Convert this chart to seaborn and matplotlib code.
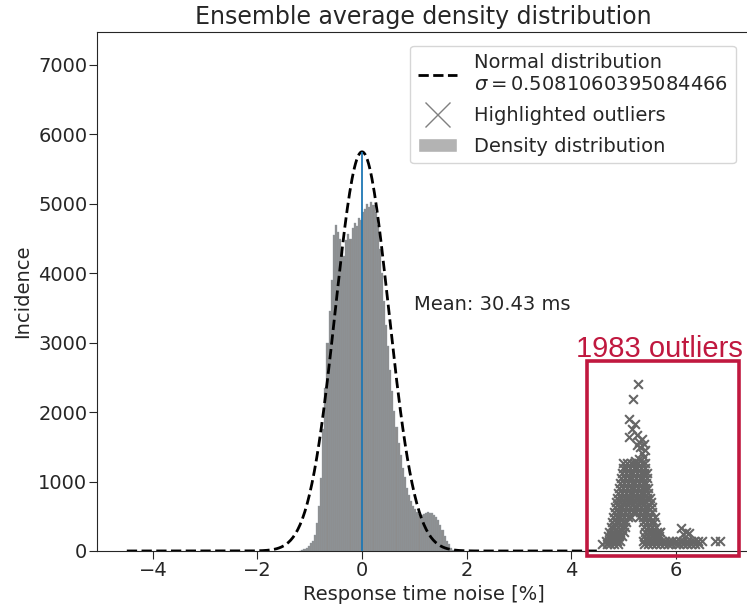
import numpy as np
import pandas as pd
import seaborn as sns
import matplotlib.pyplot as plt
from matplotlib.lines import Line2D
from matplotlib.patches import Patch, Rectangle

# histogram of response time noise (bin centres in %, bar heights)
bin_width = 0.04
bin_centers = [-1.18, -1.14, -1.10, -1.06, -1.02, -0.98, -0.94, -0.90, -0.86, -0.82,
               -0.78, -0.74, -0.70, -0.66, -0.62, -0.58, -0.54, -0.50, -0.46, -0.42,
               -0.38, -0.34, -0.30, -0.26, -0.22, -0.18, -0.14, -0.10, -0.06, -0.02,
               0.02, 0.06, 0.10, 0.14, 0.18, 0.22, 0.26, 0.30, 0.34, 0.38,
               0.42, 0.46, 0.50, 0.54, 0.58, 0.62, 0.66, 0.70, 0.74, 0.78,
               0.82, 0.86, 0.90, 0.94, 0.98, 1.02, 1.06, 1.10, 1.14, 1.18,
               1.22, 1.26, 1.30, 1.34, 1.38, 1.42, 1.46, 1.50, 1.54, 1.58,
               1.62, 1.66, 1.70, 1.74, 1.78]
bin_heights = [0, 10, 25, 45, 70, 110, 150, 230, 400, 650,
               1050, 1750, 2350, 3000, 3450, 3900, 4550, 4700, 4600, 4500,
               4300, 4250, 4480, 4560, 4500, 4650, 4720, 4680, 4800, 4760,
               4880, 4930, 5000, 4960, 5030, 4980, 4880, 4700, 4350, 4000,
               3600, 3250, 2950, 2600, 2300, 2020, 1780, 1560, 1380, 1200,
               1060, 900, 800, 720, 650, 600, 560, 530, 520, 530,
               550, 560, 550, 540, 520, 490, 450, 380, 300, 220,
               150, 100, 50, 20, 5]

# fitted normal curve
sigma = 0.5081060395084466
peak_height = 5750
curve_range = (-4.5, 4.5)

# highlighted outliers: rows of points (incidence level, noise values)
row_levels = [1260, 1190, 1120, 1050, 980, 910, 840, 770, 700, 630, 560, 490, 420, 350, 280, 210, 140, 100]
row_xs = [
    [5.00, 5.07, 5.14, 5.21, 5.28, 5.35, 5.42],
    [4.99, 5.06, 5.13, 5.20, 5.27, 5.34, 5.41],
    [4.97, 5.05, 5.12, 5.19, 5.26, 5.33, 5.40, 5.46],
    [4.96, 5.03, 5.10, 5.17, 5.24, 5.31, 5.38, 5.45],
    [4.94, 5.02, 5.09, 5.16, 5.23, 5.30, 5.37, 5.44],
    [4.92, 5.00, 5.07, 5.14, 5.21, 5.28, 5.35, 5.42, 5.48],
    [4.90, 4.97, 5.05, 5.12, 5.19, 5.26, 5.33, 5.40, 5.48],
    [4.88, 4.95, 5.03, 5.10, 5.17, 5.24, 5.31, 5.38, 5.45, 5.51],
    [4.86, 4.93, 5.01, 5.08, 5.15, 5.22, 5.29, 5.36, 5.43, 5.52],
    [4.84, 4.91, 4.98, 5.06, 5.13, 5.20, 5.27, 5.34, 5.41, 5.48, 5.55],
    [4.82, 4.89, 4.96, 5.04, 5.11, 5.18, 5.25, 5.32, 5.39, 5.46, 5.55],
    [4.80, 4.87, 4.94, 5.01, 5.08, 5.15, 5.30, 5.37, 5.44, 5.51, 5.60],
    [4.78, 4.85, 4.92, 4.99, 5.06, 5.38, 5.45, 5.52, 5.58],
    [4.76, 4.83, 4.90, 4.97, 5.04, 5.40, 5.47, 5.54, 5.63],
    [4.73, 4.80, 4.87, 4.94, 5.01, 5.42, 5.49, 5.56, 5.64, 5.71],
    [4.70, 4.77, 4.84, 4.91, 4.98, 5.40, 5.47, 5.54, 5.61, 5.68],
    [4.66, 4.73, 4.80, 4.87, 4.94, 5.38, 5.45, 5.52, 5.59, 5.66, 5.73, 5.80, 5.87, 5.94,
     6.01, 6.08, 6.15, 6.22, 6.29, 6.36, 6.43, 6.50, 6.76, 6.85],
    [4.60, 4.68, 4.75, 4.82, 4.89, 5.40, 5.47, 5.55, 5.62, 5.70, 5.78, 5.85, 5.92, 6.00,
     6.07, 6.14, 6.22, 6.30, 6.38, 6.45],
]
sparse_x = [5.28, 5.18, 5.10, 5.23, 5.17, 5.10, 5.26, 5.36, 5.29, 5.39, 5.32, 5.26,
            5.42, 5.36, 5.39, 5.30, 5.22, 6.10, 6.25, 6.20, 5.71, 6.15]
sparse_y = [2410, 2194, 1907, 1835, 1763, 1642, 1667, 1619, 1570, 1547, 1499, 1523,
            1451, 1404, 1355, 1330, 1300, 326, 254, 280, 278, 250]

n_outliers = 1983
mean_ms = 30.43

out_x = sparse_x + [x for xs in row_xs for x in xs]
out_y = sparse_y + [lvl for lvl, xs in zip(row_levels, row_xs) for x in xs]
outliers = pd.DataFrame({'noise': out_x, 'incidence': out_y})

hist_df = pd.DataFrame({'noise': bin_centers, 'count': bin_heights})
edges = [c - bin_width / 2 for c in bin_centers] + [bin_centers[-1] + bin_width / 2]

sns.set_style('ticks')
plt.rcParams['font.family'] = ['DejaVu Sans']

fig = plt.figure(figsize=(7.47, 6.06), dpi=100)
ax = fig.add_axes([0.1299, 0.0908, 0.8739, 0.8564])

sns.histplot(data=hist_df, x='noise', weights='count', bins=edges, ax=ax,
             color='#8d8d8d', alpha=1.0, edgecolor='#8f9ba6', linewidth=0.25)

xs = np.linspace(curve_range[0], curve_range[1], 400)
normal = peak_height * np.exp(-0.5 * (xs / sigma) ** 2)
ax.plot(xs, normal, color='black', linestyle='--', linewidth=2)

ax.vlines(0, 0, peak_height, color='#1f77b4', linewidth=1.3, zorder=3)

sns.scatterplot(data=outliers, x='noise', y='incidence', ax=ax, marker='x',
                color='#666666', s=40, linewidth=1.5, zorder=4)

ax.text(1.0, 3550, f'Mean: {mean_ms} ms', fontsize=14, va='center')

ax.add_patch(Rectangle((4.31, -70), 2.9, 2810, fill=False, edgecolor='#c0183f',
                       linewidth=2.6, clip_on=False, zorder=5))
ax.text(5.69, 2790, f'{n_outliers} outliers', color='#c0183f', fontsize=21,
        family='Liberation Sans', ha='center', va='baseline')

ax.set_xlim(-5.07, 7.42)
ax.set_ylim(0, peak_height * 1.3)
ax.set_title('Ensemble average density distribution', fontsize=17)
ax.set_xlabel('Response time noise [%]', fontsize=14)
ax.set_ylabel('Incidence', fontsize=14)
ax.tick_params(labelsize=14, length=5.5, pad=1.5)

handles = [Line2D([], [], color='black', linestyle='--', linewidth=2),
           Line2D([], [], color='#808080', marker='x', linestyle='none', markersize=18),
           Patch(facecolor='#b3b3b3')]
labels = ['Normal distribution\n$\\sigma=$0.5081060395084466', 'Highlighted outliers',
          'Density distribution']
ax.legend(handles, labels, loc='upper right', fontsize=14, labelspacing=0.6,
          handletextpad=0.9, borderaxespad=0.7)

fig.savefig('out.png', dpi=100)
